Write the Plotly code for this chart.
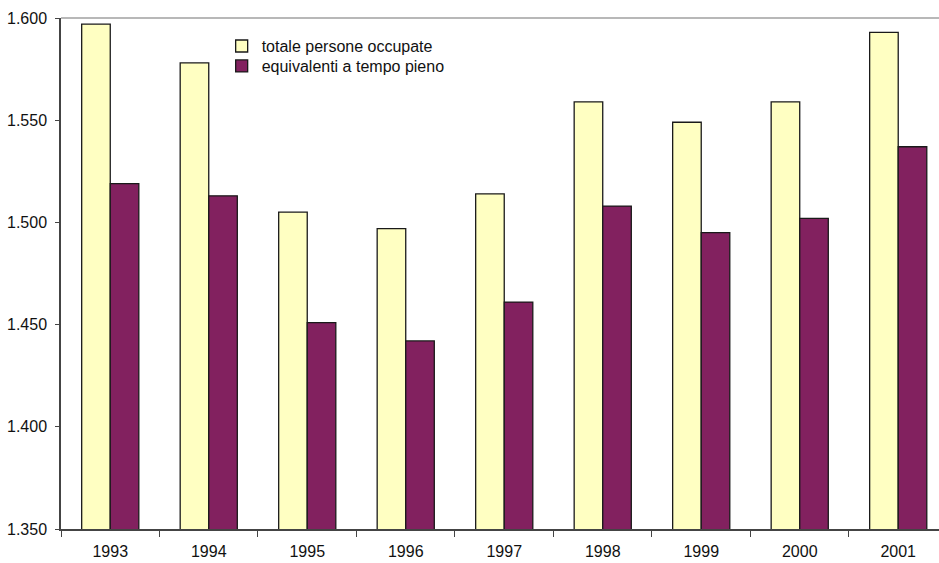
import plotly.graph_objects as go

# Occupati (migliaia) per anno
anni = ["1993", "1994", "1995", "1996", "1997", "1998", "1999", "2000", "2001"]
totale_persone = [1597, 1578, 1505, 1497, 1514, 1559, 1549, 1559, 1593]
equivalenti_tp = [1519, 1513, 1451, 1442, 1461, 1508, 1495, 1502, 1537]

nome_totale = "totale persone occupate"
nome_equivalenti = "equivalenti a tempo pieno"

y_ticks = [1350, 1400, 1450, 1500, 1550, 1600]

fig = go.Figure()
fig.add_trace(go.Bar(
    x=anni, y=totale_persone, name=nome_totale, legend="legend",
    marker=dict(color="#FFFFC2", line=dict(color="#1a1a1a", width=1.3)),
))
fig.add_trace(go.Bar(
    x=anni, y=equivalenti_tp, name=nome_equivalenti, legend="legend2",
    marker=dict(color="#82215F", line=dict(color="#1a1a1a", width=1.3)),
))

font = dict(family="Liberation Sans, Arial, sans-serif", size=16, color="#111")

# one legend box per series keeps the two entries tightly stacked
legend_common = dict(
    x=0.183, xanchor="left", yanchor="middle",
    bgcolor="rgba(0,0,0,0)", font=font, itemwidth=30, borderwidth=0,
)

fig.update_layout(
    width=939, height=563,
    margin=dict(l=61, r=0, t=18, b=34),
    paper_bgcolor="white", plot_bgcolor="white",
    barmode="group", bargap=0.42, bargroupgap=0,
    separators=",.",
    font=font,
    showlegend=True,
    legend=dict(y=0.945, **legend_common),
    legend2=dict(y=0.906, **legend_common),
    xaxis=dict(
        type="category",
        range=[-0.5, 8.414],
        showgrid=False, zeroline=False,
        showline=True, linecolor="#444", linewidth=1.5,
        ticks="outside", ticklen=6, tickcolor="#444", tickwidth=1.2,
        tickson="boundaries",
        ticklabelstandoff=7,
        tickfont=font,
    ),
    yaxis=dict(
        range=[1350, 1600],
        tickvals=y_ticks, tickformat=",d",
        showgrid=False, zeroline=False,
        showline=True, linecolor="#444", linewidth=1.5,
        ticks="outside", ticklen=4, tickcolor="#444", tickwidth=1.2,
        ticklabelstandoff=5,
        tickfont=font,
    ),
    shapes=[dict(
        type="line", xref="paper", yref="paper",
        x0=0, x1=1, y0=1, y1=1,
        line=dict(color="#a0a0a0", width=1.5),
    )],
)

fig.write_html("out.html")
